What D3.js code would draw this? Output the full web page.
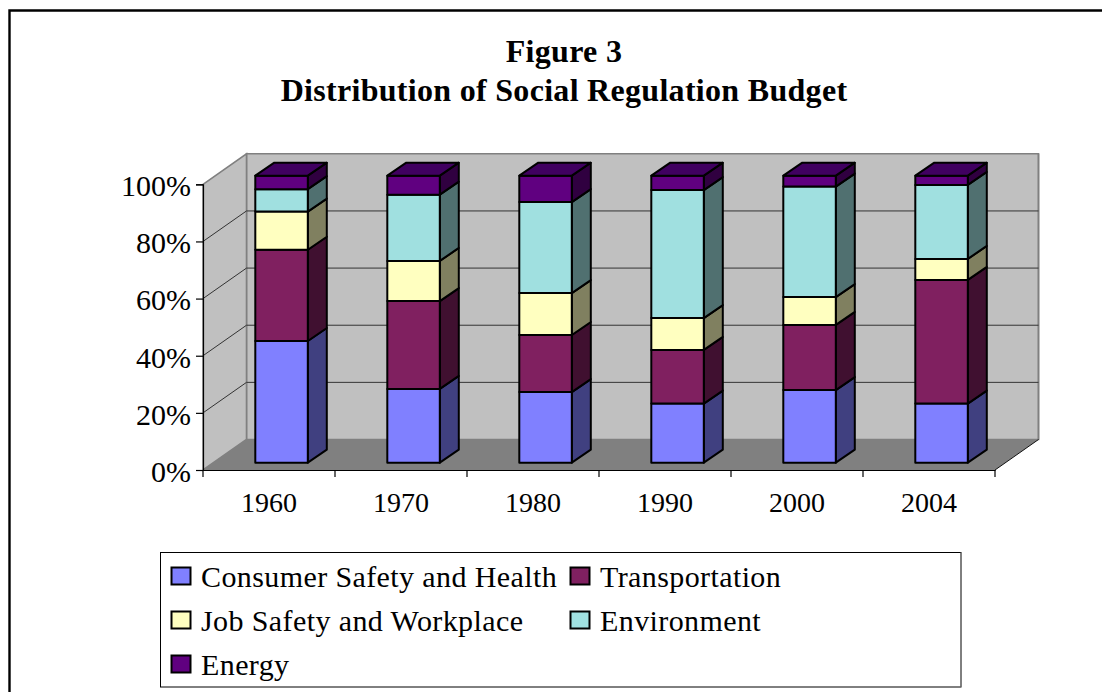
<!DOCTYPE html>
<html><head><meta charset="utf-8">
<script src="https://cdnjs.cloudflare.com/ajax/libs/d3/7.8.5/d3.min.js"></script>
<style>html,body{margin:0;padding:0;background:#fff}svg{display:block}text{font-family:"Liberation Serif",serif;fill:#000}</style>
</head><body><div id="c"></div>
<script>
const titleLines = ["Figure 3", "Distribution of Social Regulation Budget"];
const years = ["1960","1970","1980","1990","2000","2004"];
const seriesNames = ["Consumer Safety and Health","Transportation","Job Safety and Workplace","Environment","Energy"];
const seriesColors = ["#8080ff","#802060","#ffffc0","#a0e0e0","#600080"];
const sideColors = ["#404080","#401030","#808060","#507070","#300040"];
const topColor = "#400060";
const consumer = [42.4,25.7,24.6,20.6,25.3,20.6];
const transportation = [31.8,30.6,19.9,18.7,22.7,43.1];
const jobSafety = [13.3,14.0,14.6,11.1,9.7,7.3];
const environment = [7.8,23.1,31.7,44.6,38.5,25.8];
const energy = [4.7,6.6,9.2,5.0,3.8,3.2];
const seriesValues = [consumer,transportation,jobSafety,environment,energy];
const yTicks = [0,20,40,60,80,100];

const W=1102,H=692;
const svg=d3.select("#c").append("svg").attr("width",W).attr("height",H);

// frame
svg.append("path").attr("d",`M9.5,${H}V10.5H${W}`).attr("fill","none").attr("stroke","#000").attr("stroke-width",2.4);

// title
svg.selectAll("text.title").data(titleLines).join("text").attr("class","title")
  .attr("x",564).attr("y",(d,i)=>62+i*39).attr("text-anchor","middle")
  .attr("font-size",32).attr("font-weight","bold").attr("letter-spacing",0.3).text(d=>d);

// plot frame
const x=d3.scaleBand().domain(years).range([203,995]);
const y=d3.scaleLinear().domain([0,100]).range([470,184.3]);
const yBar=d3.scaleLinear().domain([0,100]).range([462.7,175.7]);
const depthX=43.5, depthY=-30.5;
const barW=52.5, barDX=19, barDY=-13;
const offX=(depthX-barDX)/2;
const pts=a=>a.map(p=>p.join(",")).join(" ");

// back wall
svg.append("polygon").attr("points",pts([[x.range()[0]+depthX,y(100)+depthY],[x.range()[1]+depthX,y(100)+depthY],[x.range()[1]+depthX,y(0)+depthY],[x.range()[0]+depthX,y(0)+depthY]]))
  .attr("fill","#c0c0c0").attr("stroke","#808080").attr("stroke-width",1.6);
// side wall
svg.append("polygon").attr("points",pts([[x.range()[0],y(0)],[x.range()[0],y(100)],[x.range()[0]+depthX,y(100)+depthY],[x.range()[0]+depthX,y(0)+depthY]]))
  .attr("fill","#c0c0c0").attr("stroke","#808080").attr("stroke-width",1.6);
// floor
svg.append("polygon").attr("points",pts([[x.range()[0],y(0)],[x.range()[1],y(0)],[x.range()[1]+depthX,y(0)+depthY],[x.range()[0]+depthX,y(0)+depthY]]))
  .attr("fill","#808080");
svg.append("line").attr("x1",x.range()[1]+depthX).attr("x2",x.range()[1]+depthX).attr("y1",y(100)+depthY).attr("y2",y(0)+depthY).attr("stroke","#808080").attr("stroke-width",1.6);

// gridlines
const gridTicks=yTicks.slice(1,-1);
svg.selectAll("path.grid").data(gridTicks).join("path").attr("class","grid")
  .attr("d",d=>`M${x.range()[0]},${y(d)}L${x.range()[0]+depthX},${y(d)+depthY}H${x.range()[1]+depthX}`)
  .attr("fill","none").attr("stroke","#333").attr("stroke-width",1);
svg.append("path").attr("d",`M${x.range()[1]},${y(0)}L${x.range()[1]+depthX},${y(0)+depthY}`).attr("stroke","#111").attr("stroke-width",1);

// axes
const axisL=svg.append("g").attr("transform",`translate(${x.range()[0]},0)`)
  .call(d3.axisLeft(y).tickValues(yTicks).tickFormat(d=>d+"%").tickSize(7).tickPadding(5));
const axisB=svg.append("g").attr("transform",`translate(0,${y(0)})`)
  .call(d3.axisBottom(x).tickSize(0).tickPadding(22));
svg.selectAll("line.xt").data(d3.range(years.length+1)).join("line").attr("class","xt")
  .attr("x1",i=>x.range()[0]+i*x.step()).attr("x2",i=>x.range()[0]+i*x.step())
  .attr("y1",y(0)).attr("y2",y(0)+7).attr("stroke","#000").attr("stroke-width",1.2);
[axisL,axisB].forEach(a=>{a.selectAll("text").attr("font-size",28).attr("font-family",'"Liberation Serif",serif').attr("fill","#000");
 a.selectAll("line,path").attr("stroke","#000").attr("stroke-width",1.2);});
axisL.selectAll("text").attr("font-size",30).attr("dy","0.38em");

// stacked bars
const stack=d3.stack().keys(d3.range(seriesNames.length)).value((d,k)=>seriesValues[k][d]);
const layers=stack(d3.range(years.length));
const barLeft=i=>x(years[i])+x.step()/2-barW/2+offX+0.3;
const g=svg.append("g").attr("stroke","#000").attr("stroke-width",2).attr("stroke-linejoin","round");
layers.forEach((layer,k)=>{
  layer.forEach((s,i)=>{
    const l=barLeft(i),r=l+barW,t=yBar(s[1]),b=yBar(s[0]);
    g.append("polygon").attr("points",pts([[r,b],[r+barDX,b+barDY],[r+barDX,t+barDY],[r,t]])).attr("fill",sideColors[k]);
    g.append("rect").attr("x",l).attr("y",t).attr("width",barW).attr("height",b-t).attr("fill",seriesColors[k]);
    if(k===seriesNames.length-1){
      g.append("polygon").attr("points",pts([[l,t],[r,t],[r+barDX,t+barDY],[l+barDX,t+barDY]])).attr("fill",topColor);
    }
  });
});

// legend
svg.append("rect").attr("x",160.5).attr("y",552.5).attr("width",800.5).attr("height",134.5)
  .attr("fill","#fff").attr("stroke","#000").attr("stroke-width",1);
svg.append("path").attr("d","M961,552.5V687").attr("stroke","#808080").attr("stroke-width",1.2);
const legendPos=[[171,577],[570,577],[171,621],[570,621],[171,665]];
const lg=svg.selectAll("g.leg").data(seriesNames).join("g").attr("class","leg")
  .attr("transform",(d,i)=>`translate(${legendPos[i][0]},${legendPos[i][1]})`);
lg.append("rect").attr("x",0.5).attr("y",-9.5).attr("width",19).attr("height",17).attr("fill",(d,i)=>seriesColors[i]).attr("stroke","#000").attr("stroke-width",2);
lg.append("text").attr("x",30).attr("y",10).attr("font-size",30).attr("letter-spacing",0.4).text(d=>d);
</script></body></html>
